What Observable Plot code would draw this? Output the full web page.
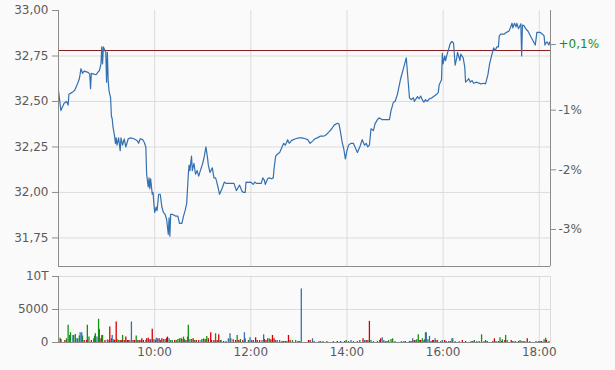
<!DOCTYPE html>
<html><head><meta charset="utf-8">
<script src="https://cdn.jsdelivr.net/npm/d3@7"></script>
<script src="https://cdn.jsdelivr.net/npm/@observablehq/plot@0.6"></script>
<style>
html,body{margin:0;padding:0;background:#fafafa;}
#chart{position:relative;width:615px;height:370px;}
#chart svg{position:absolute;left:0;display:block;}
</style></head><body><div id="chart"></div>
<script>
// ---------- data ----------
const prevClose = 32.78;
const priceTicks = [31.75, 32.00, 32.25, 32.50, 32.75, 33.00];
const pctTicks = [0.001, -0.01, -0.02, -0.03];
const pctLabels = ["+0,1%", "-1%", "-2%", "-3%"];
const hourTicks = ["10:00", "12:00", "14:00", "16:00", "18:00"];
const volTicks = [0, 5000, 10000];
const volTickLabels = ["0", "5000", "10T"];

const pricePoints = [
["08:00",32.56],["08:03",32.45],["08:07",32.49],["08:10",32.50],["08:12",32.48],["08:13",32.54],["08:17",32.55],["08:20",32.56],["08:22",32.58],["08:24",32.60],["08:26",32.625],["08:27",32.65],["08:28",32.68],["08:30",32.655],["08:32",32.667],["08:37",32.66],["08:39",32.65],["08:40",32.57],["08:41",32.655],["08:44",32.65],["08:47",32.647],["08:49",32.66],["08:51",32.67],["08:53",32.707],["08:54",32.80],["08:55",32.707],["08:56",32.80],["08:57",32.79],["08:59",32.77],
["09:00",32.606],["09:01",32.77],["09:02",32.615],["09:03",32.56],["09:05",32.52],["09:06",32.42],["09:07",32.405],["09:08",32.36],["09:10",32.31],["09:11",32.27],["09:12",32.30],["09:13",32.26],["09:15",32.30],["09:17",32.23],["09:18",32.30],["09:20",32.26],["09:22",32.295],["09:24",32.25],["09:27",32.295],["09:30",32.30],["09:34",32.295],["09:38",32.286],["09:40",32.27],["09:42",32.295],["09:45",32.29],["09:47",32.276],["09:49",32.25],["09:50",32.10],["09:52",32.03],["09:53",32.08],["09:54",32.02],["09:55",32.075],["09:57",31.99],["09:58",32.00],["09:59",31.94],
["10:00",31.89],["10:02",31.92],["10:03",31.90],["10:05",31.99],["10:07",31.99],["10:09",31.92],["10:11",31.89],["10:13",31.88],["10:15",31.85],["10:17",31.77],["10:18",31.86],["10:19",31.76],["10:20",31.88],["10:22",31.88],["10:26",31.87],["10:29",31.87],["10:31",31.83],["10:34",31.83],["10:36",31.87],["10:38",31.90],["10:40",31.94],["10:42",32.10],["10:43",32.15],["10:44",32.12],["10:46",32.20],["10:47",32.12],["10:49",32.16],["10:51",32.10],["10:53",32.12],["10:55",32.09],["10:57",32.12],
["11:00",32.16],["11:02",32.20],["11:04",32.25],["11:06",32.19],["11:07",32.15],["11:09",32.11],["11:12",32.135],["11:14",32.08],["11:16",32.08],["11:17",32.066],["11:19",32.03],["11:21",31.99],["11:24",32.02],["11:27",32.057],["11:29",32.05],["11:32",32.05],["11:37",32.05],["11:39",32.05],["11:42",32.01],["11:44",32.026],["11:46",32.04],["11:49",32.007],["11:51",32.00],["11:53",32.00],["11:54",32.057],["11:57",32.055],
["12:00",32.057],["12:03",32.044],["12:05",32.057],["12:07",32.05],["12:10",32.05],["12:13",32.05],["12:15",32.08],["12:17",32.066],["12:18",32.044],["12:21",32.075],["12:23",32.08],["12:26",32.075],["12:28",32.08],["12:29",32.13],["12:31",32.20],["12:33",32.21],["12:36",32.22],["12:39",32.25],["12:41",32.27],["12:43",32.26],["12:46",32.29],["12:48",32.27],["12:51",32.286],["12:56",32.295],
["13:00",32.30],["13:04",32.30],["13:08",32.295],["13:11",32.29],["13:14",32.27],["13:18",32.286],["13:20",32.295],["13:23",32.30],["13:27",32.31],["13:31",32.31],["13:33",32.313],["13:37",32.33],["13:41",32.35],["13:44",32.37],["13:48",32.38],["13:50",32.377],["13:52",32.33],["13:54",32.276],["13:56",32.24],["13:58",32.185],
["14:00",32.23],["14:02",32.26],["14:05",32.27],["14:08",32.27],["14:10",32.25],["14:13",32.22],["14:16",32.25],["14:19",32.29],["14:22",32.26],["14:24",32.27],["14:26",32.25],["14:28",32.26],["14:30",32.35],["14:33",32.34],["14:35",32.377],["14:38",32.40],["14:40",32.41],["14:44",32.40],["14:50",32.40],["14:53",32.40],["14:55",32.45],["14:58",32.496],
["15:00",32.50],["15:03",32.54],["15:07",32.625],["15:11",32.69],["15:14",32.74],["15:16",32.63],["15:18",32.52],["15:20",32.51],["15:23",32.52],["15:24",32.50],["15:28",32.527],["15:30",32.515],["15:32",32.53],["15:34",32.51],["15:36",32.496],["15:38",32.51],["15:40",32.50],["15:43",32.515],["15:46",32.52],["15:49",32.53],["15:52",32.54],["15:54",32.55],["15:55",32.59],["15:58",32.62],["15:59",32.765],
["16:00",32.707],["16:02",32.75],["16:03",32.725],["16:05",32.76],["16:07",32.79],["16:09",32.82],["16:11",32.83],["16:13",32.82],["16:15",32.70],["16:17",32.74],["16:18",32.77],["16:21",32.725],["16:22",32.76],["16:25",32.74],["16:27",32.69],["16:28",32.606],["16:30",32.615],["16:32",32.625],["16:34",32.606],["16:36",32.615],["16:38",32.60],["16:42",32.606],["16:47",32.597],["16:51",32.60],["16:53",32.597],["16:56",32.65],["16:58",32.707],
["17:01",32.76],["17:03",32.795],["17:05",32.78],["17:07",32.80],["17:09",32.80],["17:10",32.86],["17:12",32.87],["17:16",32.87],["17:19",32.88],["17:22",32.886],["17:24",32.905],["17:26",32.93],["17:27",32.905],["17:29",32.93],["17:31",32.91],["17:32",32.93],["17:34",32.90],["17:37",32.927],["17:38",32.75],["17:39",32.92],["17:41",32.917],["17:43",32.90],["17:46",32.886],["17:49",32.86],["17:52",32.835],["17:55",32.81],["17:57",32.88],
["18:01",32.88],["18:04",32.87],["18:06",32.86],["18:07",32.81],["18:09",32.826],["18:10",32.826],["18:12",32.81],["18:13",32.826],["18:14",32.82]
];

// volume: [minutes after 08:00, shares]
const volUp = [[2,660],[10,560],[12,2600],[14,1070],[15,1480],[19,1070],[21,1220],[24,560],[26,970],[30,970],[36,2600],[38,820],[44,560],[45,970],[46,1330],[50,3520],[51,1990],[54,1070],[55,1070],[69,410],[73,460],[75,300],[80,1070],[97,970],[101,300],[133,460],[140,300],[142,300],[147,300],[149,460],[151,560],[153,660],[156,820],[157,460],[161,820],[162,2600],[166,460],[170,300],[178,300],[181,560],[185,920],[196,1330],[202,300],
[209,150],[215,560],[223,1070],[227,460],[233,560],[237,300],[261,560],[263,560],[271,300],[276,300],[285,150],[292,300],[296,300],[301,150],[319,150],[335,150],[343,150],[359,300],[362,150],[368,150],[373,150],[376,300],[386,300],[390,300],[398,150],[412,300],
[415,460],[417,560],[428,150],[431,150],[433,150],[445,300],[447,410],[449,1170],[454,560],[457,410],[458,1480],[461,410],[468,300],[473,300],[484,150],[487,150],[489,150],[492,560],[515,150],[519,300],[525,150],[528,1170],[533,300],[542,150],[546,150],[551,710],[554,410],[558,1070],[560,300],[576,300],[606,410],[608,660]];
const volDown = [[3,460],[8,300],[32,300],[35,300],[41,300],[53,560],[58,300],[63,300],[64,2350],[66,560],[70,300],[72,3110],[77,300],[79,300],[82,300],[84,820],[86,300],[87,300],[93,300],[95,300],[99,300],[103,300],[104,560],[106,300],[110,560],[112,660],[115,410],[117,1990],[121,300],[124,560],[127,300],[129,560],[135,660],[136,820],[145,300],[154,460],[159,300],[168,560],[172,300],[175,300],[183,460],[187,560],[190,1480],[191,300],[194,300],[198,300],[200,1170],
[206,150],[218,410],[221,300],[225,300],[230,300],[243,300],[246,710],[248,300],[251,300],[257,460],[259,300],[265,410],[267,1070],[269,560],[279,150],[281,150],[283,150],[287,1070],[289,300],[299,150],[312,300],[314,300],[348,150],[352,150],[357,150],[380,560],[384,300],[388,3210],[401,300],[402,560],[410,150],
[438,150],[440,150],[444,300],[451,300],[452,300],[465,150],[467,300],[471,300],[482,300],[504,300],[508,150],[517,150],[535,150],[544,560],[549,150],[553,150],[557,300],[565,300],[567,150],[570,150],[574,150],[585,560],[601,150],[603,150],[609,300]];
const volFlat = [[18,1070],[23,560],[27,1480],[29,1480],[48,820],[61,410],[67,1070],[89,300],[91,3110],[109,300],[114,410],[119,460],[122,660],[126,560],[131,460],[138,560],[164,460],[179,460],
[203,300],[212,560],[214,1330],[232,1480],[239,710],[241,300],[254,300],[256,1170],[273,300],[303,8110],[317,560],[325,150],[327,150],[330,150],[365,300],[382,300],[393,150],[404,710],[406,300],[408,150],
[420,150],[442,560],[456,300],[459,1480],[463,920],[470,560],[477,150],[479,300],[491,560],[495,150],[500,150],[522,150],[531,150],[578,150],[580,150],[582,150],[588,150],[596,150],[599,150],[612,150]];

// ---------- helpers ----------
const toDate = s => { const [h, m] = s.split(":").map(Number); return new Date(2000, 0, 1, h, m); };
const minToDate = m => new Date(2000, 0, 1, 8, m);
const xDomain = [toDate("08:00"), toDate("18:14")];
const yMin = 31.593;
const hours = hourTicks.map(toDate);
const axisGray = "#8c8c8c", gridGray = "#dcdcdc", textGray = "#5a5a5a";
const style = {fontFamily: "'DejaVu Sans', Verdana, sans-serif", fontSize: "12px", background: "transparent", color: textGray, overflow: "visible"};

const pctPrices = pctTicks.map(p => prevClose * (1 + p));
const pctLabel = d => pctLabels[pctPrices.indexOf(d)];

const main = Plot.plot({
  width: 615, height: 268, marginTop: 10, marginBottom: 2, marginLeft: 58, marginRight: 65,
  style,
  x: {type: "time", domain: xDomain, axis: null},
  y: {domain: [yMin, 33], axis: null},
  marks: [
    Plot.ruleX(hours, {stroke: gridGray}),
    Plot.ruleY(priceTicks.filter(d => d < 33), {stroke: gridGray}),
    Plot.ruleY([prevClose], {stroke: "#8b1c1c"}),
    Plot.line(pricePoints, {x: d => toDate(d[0]), y: d => d[1], stroke: "#3470b0", strokeWidth: 1.2}),
    Plot.ruleX([xDomain[0]], {stroke: axisGray}),
    Plot.ruleX([xDomain[1]], {stroke: axisGray}),
    Plot.ruleY([yMin], {stroke: axisGray}),
    Plot.axisY(priceTicks, {anchor: "left", tickSize: 6, tickPadding: 4, stroke: axisGray, fill: textGray,
      tickFormat: d => d.toFixed(2).replace(".", ",")}),
    Plot.axisY(pctPrices.slice(0, 1), {anchor: "right", tickSize: 5, tickPadding: 3, stroke: axisGray, fill: "#1a8c1a", tickFormat: pctLabel}),
    Plot.axisY(pctPrices.slice(1), {anchor: "right", tickSize: 5, tickPadding: 3, stroke: axisGray, fill: textGray, tickFormat: pctLabel})
  ]
});

const bar = (data, color) => Plot.ruleX(data, {x: d => minToDate(d[0]), y1: 0, y2: d => d[1], stroke: color, strokeWidth: 1.3});

const vol = Plot.plot({
  width: 615, height: 102, marginTop: 8, marginBottom: 28, marginLeft: 58, marginRight: 65,
  style,
  x: {type: "time", domain: xDomain, axis: null},
  y: {domain: [0, 10000], axis: null},
  marks: [
    Plot.ruleX(hours, {stroke: gridGray}),
    Plot.ruleY([5000, 10000], {stroke: gridGray}),
    Plot.ruleX([xDomain[1]], {stroke: gridGray}),
    bar(volUp, "#129012"),
    bar(volDown, "#d40000"),
    bar(volFlat, "#3470b0"),
    Plot.ruleX([xDomain[0]], {stroke: axisGray}),
    Plot.ruleY([0], {stroke: axisGray}),
    Plot.axisY(volTicks, {anchor: "left", tickSize: 6, tickPadding: 4, stroke: axisGray, fill: textGray,
      tickFormat: d => volTickLabels[volTicks.indexOf(d)]}),
    Plot.axisX(hours, {anchor: "bottom", tickSize: 0, tickPadding: 5, fill: textGray, tickFormat: d3.timeFormat("%H:%M")})
  ]
});

const chart = document.getElementById("chart");
main.style.top = "0px";
vol.style.top = "268px";
chart.append(main, vol);
</script>
</body></html>
